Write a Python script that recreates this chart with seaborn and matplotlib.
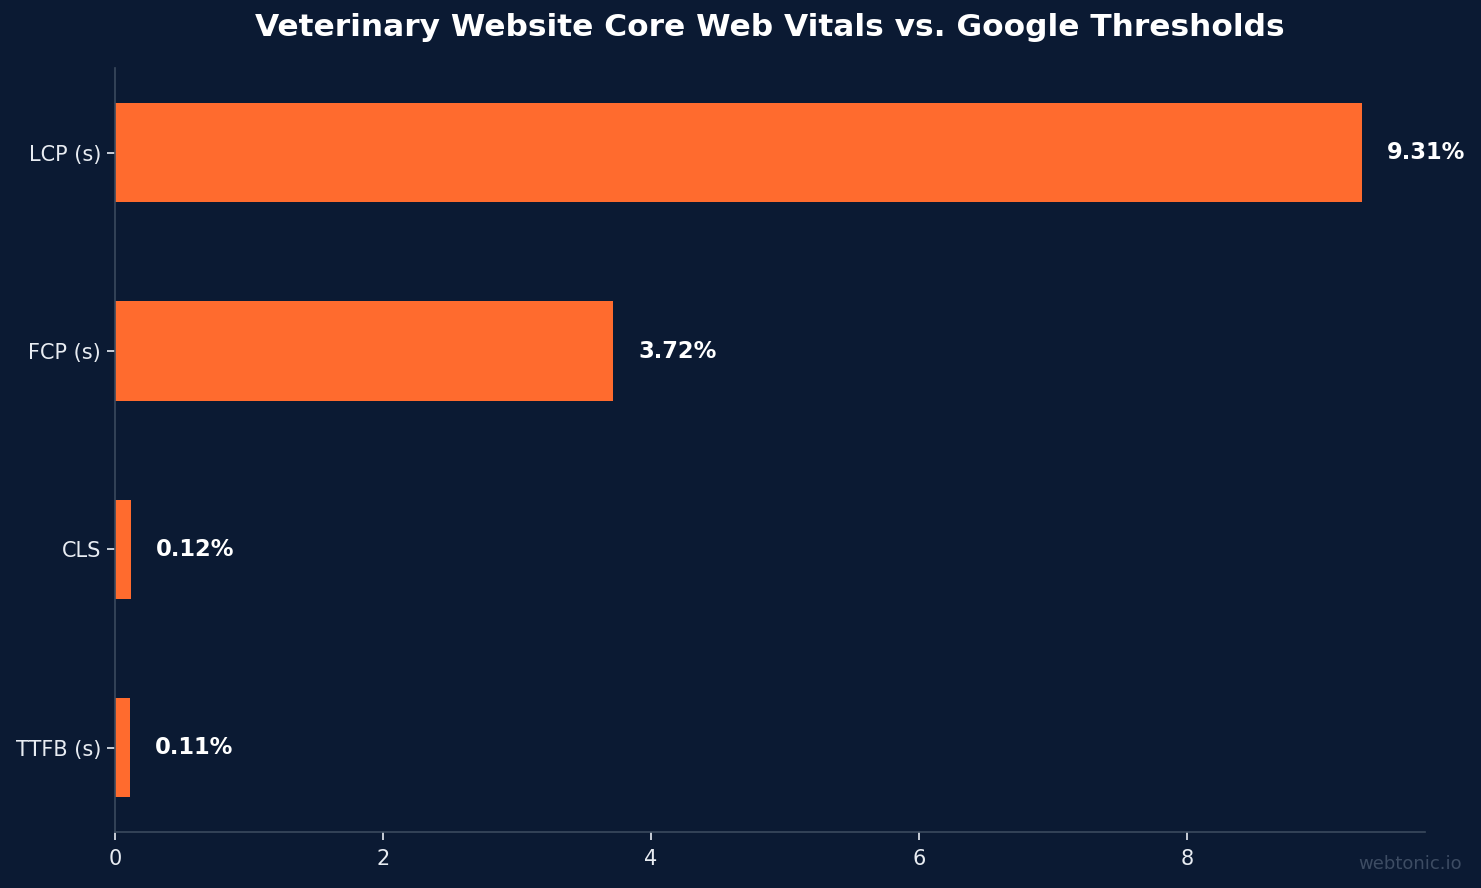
import matplotlib
matplotlib.use("Agg")
import matplotlib.pyplot as plt
import seaborn as sns
import pandas as pd

# values
metrics = ["LCP (s)", "FCP (s)", "CLS", "TTFB (s)"]
values = [9.31, 3.72, 0.12, 0.11]
labels = ["9.31%", "3.72%", "0.12%", "0.11%"]

bg = "#0B1A33"
bar_color = "#FF6B2E"
spine_color = "#3A4A5E"
text_color = "#E8ECF2"

df = pd.DataFrame({"metric": metrics, "value": values})

sns.set_style("dark")
plt.rcParams["font.family"] = ["DejaVu Sans"]

fig, ax = plt.subplots(figsize=(14.81, 8.88), dpi=100)
fig.patch.set_facecolor(bg)
ax.set_facecolor(bg)

sns.barplot(data=df, y="metric", x="value", orient="h", color=bar_color,
            width=0.5, saturation=1, linewidth=0, ax=ax)

# value labels to the right of each bar
offset = max(values) * 0.02
for i, (v, lab) in enumerate(zip(values, labels)):
    ax.text(v + offset, i, lab, ha="left", va="center", color="white",
            fontsize=16.3, fontweight="bold")

ax.set_xlim(0, max(values) * 1.05)
ax.set_ylim(len(metrics) - 1 + 0.425, -0.425)
ax.set_xlabel("")
ax.set_ylabel("")
ax.grid(False)

for side in ["top", "right"]:
    ax.spines[side].set_visible(False)
for side in ["left", "bottom"]:
    ax.spines[side].set_visible(True)
    ax.spines[side].set_color(spine_color)
    ax.spines[side].set_linewidth(1.2)

ax.tick_params(axis="both", colors=text_color, labelsize=15, length=6,
               width=1.2, bottom=True, left=True)
ax.tick_params(axis="y", pad=4)
ax.tick_params(axis="x", pad=6)
for t in ax.get_xticklabels() + ax.get_yticklabels():
    t.set_color(text_color)

ax.set_title("Veterinary Website Core Web Vitals vs. Google Thresholds",
             color="white", fontsize=22.5, fontweight="bold", pad=23)

fig.text(0.987, 0.017, "webtonic.io", ha="right", va="bottom",
         color="#3D4C63", fontsize=13)

fig.subplots_adjust(left=0.0777, right=0.962, top=0.923, bottom=0.063)
fig.savefig("out.png", dpi=100, facecolor=bg)
